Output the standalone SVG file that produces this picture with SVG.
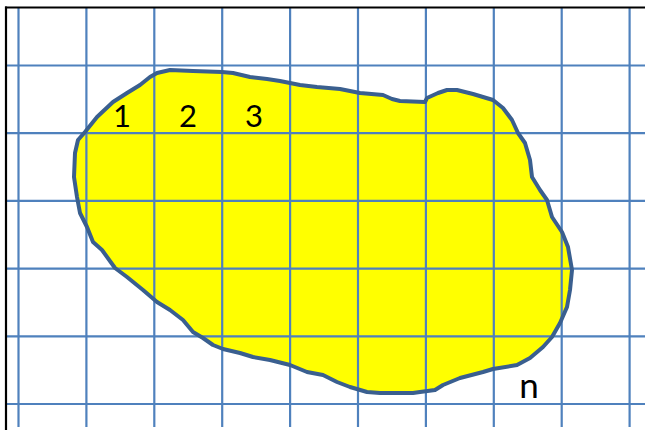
<svg xmlns="http://www.w3.org/2000/svg" width="645" height="430" viewBox="0 0 645 430">
  <style>
    .grid line { stroke: #4F81BD; stroke-width: 2.2; }
    .border { stroke: #000000; stroke-width: 2.2; }
    .lbl { font-family: Lato, "Liberation Sans", sans-serif; fill: #000000; text-anchor: middle; }
  </style>
  <defs>
    <path id="blobPath" d="M85,132 L97,117 L113,102 L127,93 L140,85 L150,77 L157,73 L170,70 L193,71 L222,72 L233,73 L250,77 L267,79 L280,81 L300,85 L317,87 L340,89 L360,93 L383,95 L392,99 L400,101 L425,102 L427,98 L438,93 L447,90 L457,90 L473,94 L493,100 L503,108 L512,120 L518,133 L525,143 L530,160 L532,177 L540,190 L547,200 L552,217 L562,232 L568,247 L572,270 L570,290 L567,307 L560,323 L552,337 L543,347 L530,358 L517,365 L493,369 L483,372 L460,378 L443,385 L435,390 L420,392 L413,393 L380,393 L367,392 L350,387 L337,382 L323,375 L307,372 L290,365 L270,360 L253,357 L240,353 L223,349 L213,345 L203,338 L193,332 L183,320 L170,310 L157,302 L143,290 L127,277 L115,268 L102,250 L93,242 L87,227 L80,213 L77,197 L74,177 L75,153 L78,140 Z"/>
  </defs>
  <rect x="0" y="0" width="645" height="430" fill="#FFFFFF"/>
  <g id="blob-fill">
    <use href="#blobPath" fill="#FFFF00" stroke="none"/>
  </g>
  <g id="grid" class="grid">
    <line x1="18.5" y1="7" x2="18.5" y2="427"/>
    <line x1="86.4" y1="7" x2="86.4" y2="427"/>
    <line x1="154.3" y1="7" x2="154.3" y2="427"/>
    <line x1="222.2" y1="7" x2="222.2" y2="427"/>
    <line x1="290.1" y1="7" x2="290.1" y2="427"/>
    <line x1="358" y1="7" x2="358" y2="427"/>
    <line x1="425.9" y1="7" x2="425.9" y2="427"/>
    <line x1="493.8" y1="7" x2="493.8" y2="427"/>
    <line x1="561.7" y1="7" x2="561.7" y2="427"/>
    <line x1="629.6" y1="7" x2="629.6" y2="427"/>
    <line x1="6" y1="65.5" x2="645" y2="65.5"/>
    <line x1="6" y1="133.2" x2="645" y2="133.2"/>
    <line x1="6" y1="200.9" x2="645" y2="200.9"/>
    <line x1="6" y1="268.6" x2="645" y2="268.6"/>
    <line x1="6" y1="336.3" x2="645" y2="336.3"/>
    <line x1="6" y1="404" x2="645" y2="404"/>
  </g>
  <g id="frame">
    <line class="border" x1="5" y1="7.5" x2="645" y2="7.5"/>
    <line class="border" x1="6" y1="6.5" x2="6" y2="430"/>
  </g>
  <g id="blob-outline">
    <use href="#blobPath" fill="none" stroke="#3A5F8F" stroke-width="4" stroke-linejoin="round" stroke-linecap="round"/>
  </g>
  <g id="labels">
    <text class="lbl" x="122" y="127" font-size="31">1</text>
    <text class="lbl" x="188" y="127" font-size="31">2</text>
    <text class="lbl" x="254" y="127" font-size="31">3</text>
    <text class="lbl" x="529" y="398" font-size="35">n</text>
  </g>
</svg>
